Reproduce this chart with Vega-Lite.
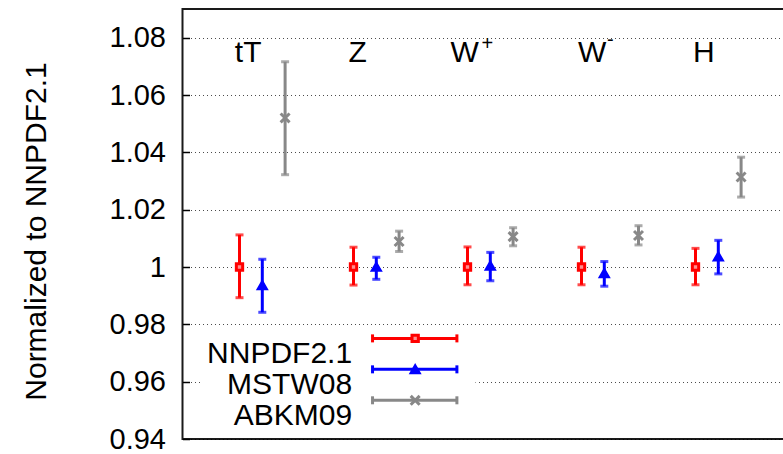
{
  "$schema": "https://vega.github.io/schema/vega-lite/v6.json",
  "width": 627,
  "height": 430,
  "autosize": {"type": "none"},
  "padding": {"left": 182.5, "top": 9, "right": 0, "bottom": 15},
  "background": "white",
  "config": {
    "view": {"stroke": "#1a1a1a", "strokeWidth": 2},
    "font": "Liberation Sans",
    "text": {"font": "Liberation Sans", "color": "#000"}
  },
  "datasets": {
    "pts": [
      {"process": "tT", "pdf": "NNPDF2.1", "x": 1.0, "val": 1.0, "lo": 0.9893, "hi": 1.0112},
      {"process": "tT", "pdf": "MSTW08", "x": 1.2, "val": 0.9936, "lo": 0.9842, "hi": 1.0027},
      {"process": "tT", "pdf": "ABKM09", "x": 1.4, "val": 1.052, "lo": 1.0322, "hi": 1.0716},
      {"process": "Z", "pdf": "NNPDF2.1", "x": 2.0, "val": 1.0, "lo": 0.9937, "hi": 1.0069},
      {"process": "Z", "pdf": "MSTW08", "x": 2.2, "val": 1.0, "lo": 0.9957, "hi": 1.0034},
      {"process": "Z", "pdf": "ABKM09", "x": 2.4, "val": 1.0089, "lo": 1.0054, "hi": 1.0125},
      {"process": "W+", "pdf": "NNPDF2.1", "x": 3.0, "val": 1.0, "lo": 0.9938, "hi": 1.007},
      {"process": "W+", "pdf": "MSTW08", "x": 3.2, "val": 1.0004, "lo": 0.9952, "hi": 1.0051},
      {"process": "W+", "pdf": "ABKM09", "x": 3.4, "val": 1.0106, "lo": 1.0074, "hi": 1.0137},
      {"process": "W-", "pdf": "NNPDF2.1", "x": 4.0, "val": 1.0, "lo": 0.9938, "hi": 1.0069},
      {"process": "W-", "pdf": "MSTW08", "x": 4.2, "val": 0.9978, "lo": 0.9933, "hi": 1.0019},
      {"process": "W-", "pdf": "ABKM09", "x": 4.5, "val": 1.011, "lo": 1.0077, "hi": 1.0144},
      {"process": "H", "pdf": "NNPDF2.1", "x": 5.0, "val": 1.0, "lo": 0.9938, "hi": 1.0065},
      {"process": "H", "pdf": "MSTW08", "x": 5.2, "val": 1.0036, "lo": 0.9976, "hi": 1.0093},
      {"process": "H", "pdf": "ABKM09", "x": 5.4, "val": 1.0314, "lo": 1.0244, "hi": 1.0383}
    ],
    "names": [
      {"t": "tT", "x": 1.076, "y": 1.0716},
      {"t": "Z", "x": 2.037, "y": 1.0716},
      {"t": "W", "x": 2.975, "y": 1.0716},
      {"t": "W", "x": 4.094, "y": 1.0716},
      {"t": "H", "x": 5.074, "y": 1.0716}
    ],
    "sups": [
      {"t": "+", "x": 3.174, "y": 1.0778},
      {"t": "-", "x": 4.252, "y": 1.0792}
    ],
    "legend": [
      {"pdf": "NNPDF2.1", "ly": 0.9751, "ty": 0.9666},
      {"pdf": "MSTW08", "ly": 0.9643, "ty": 0.9557},
      {"pdf": "ABKM09", "ly": 0.9535, "ty": 0.9449}
    ]
  },
  "layer": [
    {
      "data": {"values": [{}]},
      "mark": {"type": "rect", "fill": "white"},
      "encoding": {
        "x": {"datum": 0.674, "type": "quantitative", "scale": {"domain": [0.5, 6], "nice": false, "zero": false}, "axis": null},
        "x2": {"datum": 3.07},
        "y": {
          "datum": 0.977, "type": "quantitative",
          "scale": {"domain": [0.94, 1.09], "nice": false, "zero": false},
          "title": "Normalized to NNPDF2.1",
          "axis": {
            "values": [0.94, 0.96, 0.98, 1, 1.02, 1.04, 1.06, 1.08],
            "labelExpr": "datum.value == 1 ? '1' : format(datum.value, '.2f')",
            "labelFontSize": 29, "labelColor": "#000", "labelFont": "Liberation Sans",
            "labelPadding": 24, "labelOverlap": false, "labelFlush": false,
            "tickSize": -7, "tickColor": "#000", "tickWidth": 1.5,
            "domain": false,
            "grid": true, "gridColor": "#000", "gridDash": [1, 3], "gridOpacity": 0.7, "gridWidth": 1,
            "titleFontSize": 30, "titleFontWeight": "normal", "titleColor": "#000", "titleFont": "Liberation Sans",
            "titlePadding": 58, "titleY": 222
          }
        },
        "y2": {"datum": 0.9406}
      }
    },
    {
      "data": {"name": "pts"},
      "mark": {"type": "errorbar", "ticks": {"size": 8, "thickness": 3}, "thickness": 3},
      "encoding": {
        "x": {"field": "x", "type": "quantitative"},
        "y": {"field": "lo", "type": "quantitative", "title": "Normalized to NNPDF2.1"},
        "y2": {"field": "hi"},
        "color": {"field": "pdf", "type": "nominal", "scale": {"domain": ["NNPDF2.1", "MSTW08", "ABKM09"], "range": ["#ff0000", "#0000ff", "#888888"]}, "legend": null}
      }
    },
    {
      "data": {"name": "pts"},
      "mark": {"type": "point", "strokeWidth": 3, "opacity": 1},
      "encoding": {
        "x": {"field": "x", "type": "quantitative"},
        "y": {"field": "val", "type": "quantitative", "title": "Normalized to NNPDF2.1"},
        "shape": {"field": "pdf", "type": "nominal", "scale": {"domain": ["NNPDF2.1", "MSTW08", "ABKM09"], "range": ["square", "triangle-up", "M-1,-1L1,1M-1,1L1,-1"]}, "legend": null},
        "stroke": {"field": "pdf", "type": "nominal", "scale": {"domain": ["NNPDF2.1", "MSTW08", "ABKM09"], "range": ["#ff0000", "#0000ff", "#888888"]}, "legend": null},
        "fill": {"field": "pdf", "type": "nominal", "scale": {"domain": ["NNPDF2.1", "MSTW08", "ABKM09"], "range": ["#ff9090", "#0000ff", "#888888"]}, "legend": null},
        "size": {"field": "pdf", "type": "nominal", "scale": {"domain": ["NNPDF2.1", "MSTW08", "ABKM09"], "range": [40, 80, 36]}, "legend": null}
      }
    },
    {
      "data": {"name": "names"},
      "mark": {"type": "text", "fontSize": 30, "align": "center", "baseline": "alphabetic"},
      "encoding": {
        "x": {"field": "x", "type": "quantitative"},
        "y": {"field": "y", "type": "quantitative", "title": "Normalized to NNPDF2.1"},
        "text": {"field": "t"}
      }
    },
    {
      "data": {"name": "sups"},
      "mark": {"type": "text", "fontSize": 20, "align": "center", "baseline": "middle"},
      "encoding": {
        "x": {"field": "x", "type": "quantitative"},
        "y": {"field": "y", "type": "quantitative", "title": "Normalized to NNPDF2.1"},
        "text": {"field": "t"}
      }
    },
    {
      "data": {"name": "legend"},
      "mark": {"type": "text", "fontSize": 30, "align": "right", "baseline": "alphabetic"},
      "encoding": {
        "x": {"datum": 1.988, "type": "quantitative"},
        "y": {"field": "ty", "type": "quantitative", "title": "Normalized to NNPDF2.1"},
        "text": {"field": "pdf"}
      }
    },
    {
      "data": {"name": "legend"},
      "mark": {"type": "rule", "strokeWidth": 3},
      "encoding": {
        "x": {"datum": 2.167, "type": "quantitative"},
        "x2": {"datum": 2.907},
        "y": {"field": "ly", "type": "quantitative", "title": "Normalized to NNPDF2.1"},
        "color": {"field": "pdf", "type": "nominal", "legend": null}
      }
    },
    {
      "data": {"name": "legend"},
      "mark": {"type": "tick", "orient": "vertical", "size": 8, "thickness": 3, "opacity": 1},
      "encoding": {
        "x": {"datum": 2.167, "type": "quantitative"},
        "y": {"field": "ly", "type": "quantitative", "title": "Normalized to NNPDF2.1"},
        "color": {"field": "pdf", "type": "nominal", "legend": null}
      }
    },
    {
      "data": {"name": "legend"},
      "mark": {"type": "tick", "orient": "vertical", "size": 8, "thickness": 3, "opacity": 1},
      "encoding": {
        "x": {"datum": 2.907, "type": "quantitative"},
        "y": {"field": "ly", "type": "quantitative", "title": "Normalized to NNPDF2.1"},
        "color": {"field": "pdf", "type": "nominal", "legend": null}
      }
    },
    {
      "data": {"name": "legend"},
      "mark": {"type": "point", "strokeWidth": 3, "opacity": 1},
      "encoding": {
        "x": {"datum": 2.541, "type": "quantitative"},
        "y": {"field": "ly", "type": "quantitative", "title": "Normalized to NNPDF2.1"},
        "shape": {"field": "pdf", "type": "nominal", "legend": null},
        "stroke": {"field": "pdf", "type": "nominal", "legend": null},
        "fill": {"field": "pdf", "type": "nominal", "legend": null},
        "size": {"field": "pdf", "type": "nominal", "legend": null}
      }
    }
  ]
}
